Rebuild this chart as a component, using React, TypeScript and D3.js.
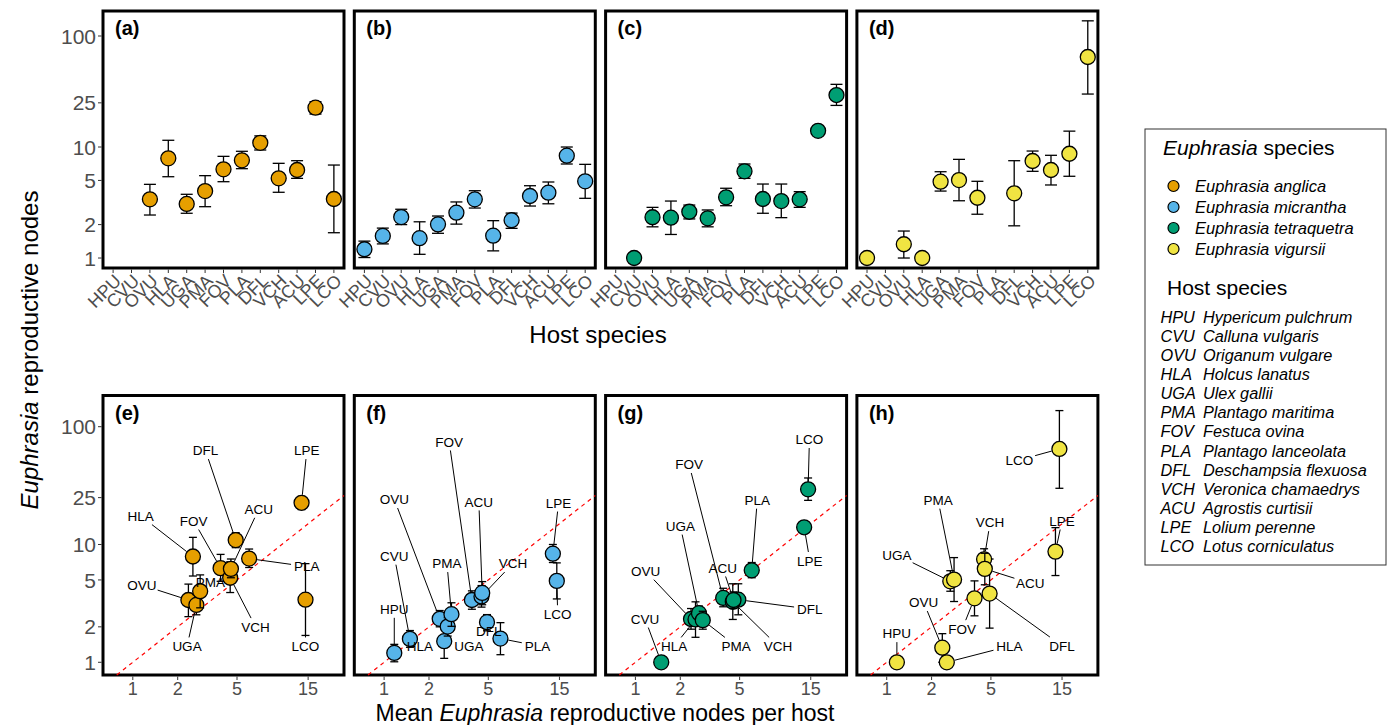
import React from "react";
import * as d3 from "d3";

// host species, in plotting order
const hosts = ["HPU", "CVU", "OVU", "HLA", "UGA", "PMA", "FOV", "PLA", "DFL", "VCH", "ACU", "LPE", "LCO"];
const hostNames = [
  "Hypericum pulchrum", "Calluna vulgaris", "Origanum vulgare", "Holcus lanatus", "Ulex gallii",
  "Plantago maritima", "Festuca ovina", "Plantago lanceolata", "Deschampsia flexuosa",
  "Veronica chamaedrys", "Agrostis curtisii", "Lolium perenne", "Lotus corniculatus",
];
// mean Euphrasia reproductive nodes per host (x of bottom row)
const hostMeans = [1.17, 1.49, 2.36, 2.53, 2.67, 2.83, 3.88, 6.03, 4.9, 4.5, 4.55, 13.55, 14.4];

const speciesNames = ["Euphrasia anglica", "Euphrasia micrantha", "Euphrasia tetraquetra", "Euphrasia vigursii"];
const speciesColors = ["#E69F00", "#56B4E9", "#009E73", "#F0E442"];

const anglicaMean = [null, null, 3.38, 7.91, 3.07, 4.01, 6.3, 7.59, 10.9, 5.22, 6.21, 22.6, 3.4];
const anglicaLow = [null, null, 2.44, 5.4, 2.53, 2.9, 4.87, 6.38, 9.4, 3.91, 5.22, 19.8, 1.69];
const anglicaHigh = [null, null, 4.61, 11.5, 3.75, 5.52, 8.24, 9.15, 12.6, 7.13, 7.53, 25.6, 6.88];

const micranthaMean = [1.2, 1.58, 2.34, 1.51, 2.01, 2.56, 3.38, 1.59, 2.19, 3.62, 3.88, 8.35, 4.91];
const micranthaLow = [1.01, 1.34, 2.0, 1.08, 1.67, 2.02, 2.82, 1.16, 1.85, 2.94, 3.08, 7.03, 3.45];
const micranthaHigh = [1.42, 1.86, 2.75, 2.12, 2.39, 3.2, 4.04, 2.17, 2.54, 4.48, 4.84, 10, 6.98];

const tetraquetraMean = [null, 1.0, 2.33, 2.31, 2.61, 2.28, 3.52, 6.04, 3.4, 3.26, 3.38, 14.0, 29.4];
const tetraquetraLow = [null, null, 1.91, 1.63, 2.25, 1.91, 2.96, 5.22, 2.53, 2.31, 2.86, null, 23.7];
const tetraquetraHigh = [null, null, 2.86, 3.26, 3.0, 2.71, 4.25, 7.03, 4.64, 4.64, 3.96, null, 36.7];

const vigursiiMean = [1.0, null, 1.33, 1.0, 4.87, 5.04, 3.49, null, 3.83, 7.48, 6.21, 8.7, 64.7];
const vigursiiLow = [null, null, 1.0, null, 4.01, 3.28, 2.48, null, 1.95, 6.04, 4.55, 5.45, 30];
const vigursiiHigh = [null, null, 1.75, null, 5.99, 7.74, 4.91, null, 7.53, 9.2, 8.42, 13.9, 137];

// repelled label positions (data units) for the bottom row
const anglicaLabels: [string, number, number][] = [
  ["DFL", 3.07, 63], ["LPE", 14.7, 63], ["ACU", 7.0, 20], ["HLA", 1.13, 17.5], ["FOV", 2.56, 15.9],
  ["PLA", 14.7, 6.5], ["OVU", 1.15, 4.53], ["PMA", 3.31, 4.83], ["VCH", 6.66, 2.0],
  ["UGA", 2.31, 1.37], ["LCO", 14.4, 1.37],
];
const micranthaLabels: [string, number, number][] = [
  ["FOV", 2.73, 74.6], ["OVU", 1.17, 24.2], ["ACU", 4.32, 23.1], ["LPE", 14.8, 22.6], ["CVU", 1.17, 8.0],
  ["PMA", 2.64, 6.92], ["VCH", 7.32, 6.92], ["HPU", 1.17, 2.83], ["LCO", 14.6, 2.57], ["DFL", 5.04, 1.85],
  ["HLA", 1.74, 1.38], ["UGA", 3.7, 1.38], ["PLA", 10.7, 1.38],
];
const tetraquetraLabels: [string, number, number][] = [
  ["LCO", 14.7, 78.2], ["FOV", 2.29, 48], ["PLA", 6.57, 23.9], ["UGA", 2.0, 14.4], ["LPE", 14.8, 7.28],
  ["ACU", 3.85, 6.35], ["OVU", 1.17, 5.96], ["DFL", 14.8, 2.83], ["CVU", 1.16, 2.34],
  ["HLA", 1.82, 1.37], ["PMA", 4.74, 1.37], ["VCH", 9.06, 1.37],
];
const vigursiiLabels: [string, number, number][] = [
  ["LCO", 7.76, 52.2], ["PMA", 2.21, 23.9], ["VCH", 4.94, 15.4], ["LPE", 15.0, 15.9], ["UGA", 1.17, 8.15],
  ["ACU", 9.17, 4.69], ["OVU", 1.77, 3.23], ["FOV", 3.21, 1.92], ["HPU", 1.17, 1.76], ["DFL", 15.0, 1.38],
  ["HLA", 6.64, 1.37],
];

const yTicks = [1, 2, 5, 10, 25, 100];
const xTicks = [1, 2, 5, 15];

const series = [
  { mean: anglicaMean, low: anglicaLow, high: anglicaHigh, labels: anglicaLabels },
  { mean: micranthaMean, low: micranthaLow, high: micranthaHigh, labels: micranthaLabels },
  { mean: tetraquetraMean, low: tetraquetraLow, high: tetraquetraHigh, labels: tetraquetraLabels },
  { mean: vigursiiMean, low: vigursiiLow, high: vigursiiHigh, labels: vigursiiLabels },
];
const topTags = ["(a)", "(b)", "(c)", "(d)"];
const bottomTags = ["(e)", "(f)", "(g)", "(h)"];

const FONT = "'Liberation Sans', Arial, Helvetica, sans-serif";
const GREY = "#4D4D4D";
const R = 7.5;
const CAP = 6;

const width = 1392,
  height = 725,
  panelW = 241,
  panelStep = 251.3,
  firstLeft = 103,
  topRow = { y0: 11, y1: 268 },
  botRow = { y0: 395.5, y1: 675 };

const yTop = d3.scaleLog().domain([0.813, 168]).range([topRow.y1, topRow.y0]);
const yBot = d3.scaleLog().domain([0.78, 184]).range([botRow.y1, botRow.y0]);

function TopPanel({ i }: { i: number }) {
  const left = firstLeft + i * panelStep;
  const x = d3.scalePoint<string>().domain(hosts).range([left, left + panelW]).padding(0.55);
  const s = series[i];
  return (
    <g>
      <rect x={left} y={topRow.y0} width={panelW} height={topRow.y1 - topRow.y0} fill="white" stroke="black" strokeWidth={3} />
      <text x={left + 12} y={topRow.y0 + 24} fontSize={20} fontWeight="bold" fontFamily={FONT}>{topTags[i]}</text>
      {hosts.map((h) => (
        <g key={h}>
          <line x1={x(h)} x2={x(h)} y1={topRow.y1 + 1.5} y2={topRow.y1 + 5} stroke="#333" strokeWidth={1} />
          <text
            fontSize={18}
            fill={GREY}
            fontFamily={FONT}
            textAnchor="end"
            transform={`translate(${(x(h) as number) + 9},${topRow.y1 + 14}) rotate(-45)`}
          >
            {h}
          </text>
        </g>
      ))}
      {s.mean.map((m, k) =>
        m == null ? null : (
          <g key={k}>
            {s.low[k] != null && (
              <g stroke="black" strokeWidth={1.3}>
                <line x1={x(hosts[k])} x2={x(hosts[k])} y1={yTop(s.low[k] as number)} y2={yTop(s.high[k] as number)} />
                <line x1={(x(hosts[k]) as number) - CAP} x2={(x(hosts[k]) as number) + CAP} y1={yTop(s.low[k] as number)} y2={yTop(s.low[k] as number)} />
                <line x1={(x(hosts[k]) as number) - CAP} x2={(x(hosts[k]) as number) + CAP} y1={yTop(s.high[k] as number)} y2={yTop(s.high[k] as number)} />
              </g>
            )}
            <circle cx={x(hosts[k])} cy={yTop(m)} r={R} fill={speciesColors[i]} stroke="black" strokeWidth={1.3} />
          </g>
        )
      )}
    </g>
  );
}

function BottomPanel({ i }: { i: number }) {
  const left = firstLeft + i * panelStep;
  const x = d3.scaleLog().domain([0.631, 26.1]).range([left, left + panelW]);
  const s = series[i];
  const lo = Math.max(x.domain()[0], yBot.domain()[0]);
  const hi = Math.min(x.domain()[1], yBot.domain()[1]);
  const fs = 13.5;
  return (
    <g>
      <rect x={left} y={botRow.y0} width={panelW} height={botRow.y1 - botRow.y0} fill="white" stroke="black" strokeWidth={3} />
      <line x1={x(lo)} y1={yBot(lo)} x2={x(hi)} y2={yBot(hi)} stroke="#FF0000" strokeWidth={1.2} strokeDasharray="4,4" />
      {xTicks.map((t) => (
        <g key={t}>
          <line x1={x(t)} x2={x(t)} y1={botRow.y1 + 1.5} y2={botRow.y1 + 5} stroke="#333" strokeWidth={1} />
          <text x={x(t)} y={botRow.y1 + 20} textAnchor="middle" fontSize={18} fill={GREY} fontFamily={FONT}>{t}</text>
        </g>
      ))}
      {/* label segments */}
      {s.labels.map(([h, lx, ly]) => {
        const k = hosts.indexOf(h);
        const px = x(hostMeans[k]);
        const py = yBot(s.mean[k] as number);
        const cx = x(lx);
        const cy = yBot(ly);
        const dx = px - cx, dy = py - cy;
        const hw = (h.length * fs * 0.68) / 2 + 2, hh = fs / 2 + 2;
        const t = Math.min(dx === 0 ? Infinity : hw / Math.abs(dx), dy === 0 ? Infinity : hh / Math.abs(dy));
        const dist = Math.hypot(dx, dy);
        if (t >= 1) return null;
        const sx = cx + dx * t, sy = cy + dy * t;
        const ex = px - (dx / dist) * (R + 0.5), ey = py - (dy / dist) * (R + 0.5);
        if (Math.hypot(ex - sx, ey - sy) < 8 || (ex - sx) * dx + (ey - sy) * dy < 0) return null;
        return <line key={h} x1={sx} y1={sy} x2={ex} y2={ey} stroke="black" strokeWidth={1} />;
      })}
      {s.mean.map((m, k) =>
        m == null ? null : (
          <g key={k}>
            {s.low[k] != null && (
              <g stroke="black" strokeWidth={1.3}>
                <line x1={x(hostMeans[k])} x2={x(hostMeans[k])} y1={yBot(s.low[k] as number)} y2={yBot(s.high[k] as number)} />
                <line x1={x(hostMeans[k]) - CAP / 1.5} x2={x(hostMeans[k]) + CAP / 1.5} y1={yBot(s.low[k] as number)} y2={yBot(s.low[k] as number)} />
                <line x1={x(hostMeans[k]) - CAP / 1.5} x2={x(hostMeans[k]) + CAP / 1.5} y1={yBot(s.high[k] as number)} y2={yBot(s.high[k] as number)} />
              </g>
            )}
            <circle cx={x(hostMeans[k])} cy={yBot(m)} r={R} fill={speciesColors[i]} stroke="black" strokeWidth={1.3} />
          </g>
        )
      )}
      {s.labels.map(([h, lx, ly]) => (
        <text key={h} x={x(lx)} y={yBot(ly)} dy="0.36em" textAnchor="middle" fontSize={fs} fontFamily={FONT} fill="black">{h}</text>
      ))}
      <text x={left + 12} y={botRow.y0 + 24} fontSize={20} fontWeight="bold" fontFamily={FONT}>{bottomTags[i]}</text>
    </g>
  );
}

function YAxis({ scale, left }: { scale: d3.ScaleLogarithmic<number, number>; left: number }) {
  return (
    <g>
      {yTicks.map((t) => (
        <g key={t}>
          <line x1={left - 5} x2={left - 1.5} y1={scale(t)} y2={scale(t)} stroke="#333" strokeWidth={1} />
          <text x={left - 7} y={scale(t)} dy="0.36em" textAnchor="end" fontSize={21} fill={GREY} fontFamily={FONT}>{t}</text>
        </g>
      ))}
    </g>
  );
}

function Legend() {
  return (
    <g fontFamily={FONT}>
      <rect x={1145} y={129} width={241} height={436} fill="white" stroke="#333" strokeWidth={1} />
      <text x={1163} y={155} fontSize={21}>
        <tspan fontStyle="italic">Euphrasia</tspan> species
      </text>
      {speciesNames.map((n, k) => (
        <g key={n}>
          <circle cx={1173.5} cy={186 + k * 21} r={5.5} fill={speciesColors[k]} stroke="black" strokeWidth={1.2} />
          <text x={1195} y={186 + k * 21} dy="0.36em" fontSize={16.5} fontStyle="italic">{n}</text>
        </g>
      ))}
      <text x={1167} y={295} fontSize={21}>Host species</text>
      {hosts.map((h, k) => (
        <g key={h} fontSize={16.3} fontStyle="italic">
          <text x={1160.5} y={323 + k * 19.08}>{h}</text>
          <text x={1203} y={323 + k * 19.08}>{hostNames[k]}</text>
        </g>
      ))}
    </g>
  );
}

export default function App() {
  return (
    <svg width={width} height={height} style={{ position: "absolute", left: 0, top: 0, background: "white" }}>
      <rect width={width} height={height} fill="white" />
      <YAxis scale={yTop} left={firstLeft} />
      <YAxis scale={yBot} left={firstLeft} />
      {[0, 1, 2, 3].map((i) => (
        <TopPanel key={"t" + i} i={i} />
      ))}
      {[0, 1, 2, 3].map((i) => (
        <BottomPanel key={"b" + i} i={i} />
      ))}
      <text x={598} y={343} textAnchor="middle" fontSize={24} fontFamily={FONT}>Host species</text>
      <text x={605} y={721} textAnchor="middle" fontSize={23} fontFamily={FONT}>
        Mean <tspan fontStyle="italic">Euphrasia</tspan> reproductive nodes per host
      </text>
      <text transform="translate(38,350) rotate(-90)" textAnchor="middle" fontSize={24} fontFamily={FONT}>
        <tspan fontStyle="italic">Euphrasia</tspan> reproductive nodes
      </text>
      <Legend />
    </svg>
  );
}
